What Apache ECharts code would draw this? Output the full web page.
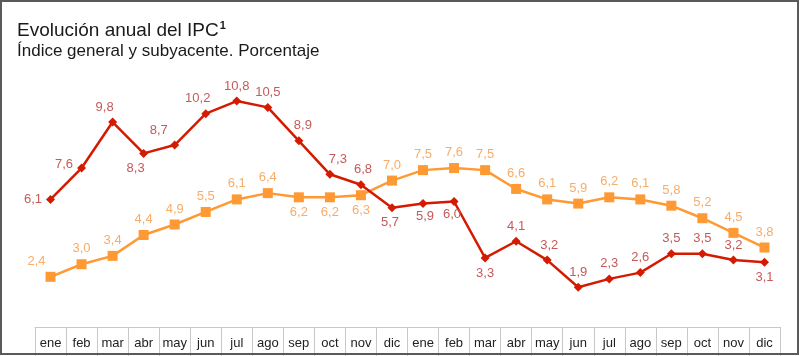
<!DOCTYPE html>
<html><head><meta charset="utf-8">
<script src="https://cdn.jsdelivr.net/npm/echarts@6/dist/echarts.min.js"></script>
<style>html,body{margin:0;padding:0;background:#fff}#c{width:800px;height:356px}</style>
</head><body><div id="c"></div>
<script>
const categories = ['ene','feb','mar','abr','may','jun','jul','ago','sep','oct','nov','dic',
                    'ene','feb','mar','abr','may','jun','jul','ago','sep','oct','nov','dic'];
const general = [6.1,7.6,9.8,8.3,8.7,10.2,10.8,10.5,8.9,7.3,6.8,5.7,
                 5.9,6.0,3.3,4.1,3.2,1.9,2.3,2.6,3.5,3.5,3.2,3.1];
const subyacente = [2.4,3.0,3.4,4.4,4.9,5.5,6.1,6.4,6.2,6.2,6.3,7.0,
                    7.5,7.6,7.5,6.6,6.1,5.9,6.2,6.1,5.8,5.2,4.5,3.8];
const generalPos = ['left','left','top','bottom','top','top','top','top','top','top','top','bottom',
                    'bottom','bottom','bottom','top','top','top','top','top','top','top','top','bottom'];
const generalOff = [[0,0],[0,-4],[-8,0],[-8,0],[-16,0],[-8,0],[0,0],[0,0],[4,0],[8,0],[2,0],[-2,0],
                    [2,-2],[-2,-2],[0,0],[0,0],[2,0],[0,0],[0,0],[0,0],[0,0],[0,0],[0,0],[0,0]];
const subPos = ['top','top','top','top','top','top','top','top','bottom','bottom','bottom','top',
                'top','top','top','top','top','top','top','top','top','top','top','top'];
const subOff = [[-14,0],[0,0],[0,0],[0,0],[0,0],[0,0],[0,0],[0,0],[0,0],[0,0],[0,0],[0,0],
                [0,0],[0,0],[0,0],[0,0],[0,0],[0,0],[0,0],[0,0],[0,0],[0,0],[0,0],[0,0]];

function fmt(v){ return v.toFixed(1).replace('.', ','); }

const chart = echarts.init(document.getElementById('c'), null, {renderer:'canvas'});
const font = 'Liberation Sans, Arial, sans-serif';

chart.setOption({
  animation:false,
  backgroundColor:'#fff',
  textStyle:{fontFamily:font},
  title:{
    left:12, top:15,
    text:'{t|Evolución anual del IPC}{s|1}',
    subtext:'Índice general y subyacente. Porcentaje',
    itemGap:3,
    textStyle:{rich:{
      t:{fontSize:19,color:'#1a1a1a',fontFamily:font,fontWeight:'normal'},
      s:{fontSize:11,color:'#1a1a1a',fontFamily:font,verticalAlign:'top',padding:[0,0,10,1]}
    }},
    subtextStyle:{fontSize:17,color:'#1a1a1a',fontFamily:font}
  },
  grid:{left:35,right:20,top:76,bottom:29},
  xAxis:{
    type:'category', data:categories, boundaryGap:true,
    axisLine:{show:true,lineStyle:{color:'#c8c8c8',width:1}},
    axisTick:{show:true,interval:0,length:30,lineStyle:{color:'#c8c8c8'}},
    axisLabel:{interval:0,color:'#222',fontSize:13,fontFamily:font,margin:10}
  },
  yAxis:{type:'value',min:0,max:12,show:false,splitLine:{show:false}},
  series:[
    {
      name:'Subyacente', type:'line', z:2,
      data:subyacente.map((v,i)=>({value:v,label:{position:subPos[i],offset:subOff[i]}})),
      symbol:'rect', symbolSize:10,
      lineStyle:{color:'#ff9933',width:2.5},
      itemStyle:{color:'#ff9933'},
      label:{show:true,color:'#f6ad6a',fontSize:13,fontFamily:font,distance:4,
             formatter:p=>fmt(p.value)}
    },
    {
      name:'General', type:'line', z:3,
      data:general.map((v,i)=>({value:v,label:{position:generalPos[i],offset:generalOff[i]}})),
      symbol:'diamond', symbolSize:9,
      lineStyle:{color:'#d41a00',width:2.5},
      itemStyle:{color:'#d41a00'},
      label:{show:true,color:'#c65a5a',fontSize:13,fontFamily:font,distance:4,
             formatter:p=>fmt(p.value)}
    }
  ],
  graphic:[{
    type:'rect', z:100, silent:true,
    shape:{x:1,y:1,width:797,height:353},
    style:{fill:null,stroke:'#5a5a5a',lineWidth:2}
  }]
});
</script>
</body></html>
